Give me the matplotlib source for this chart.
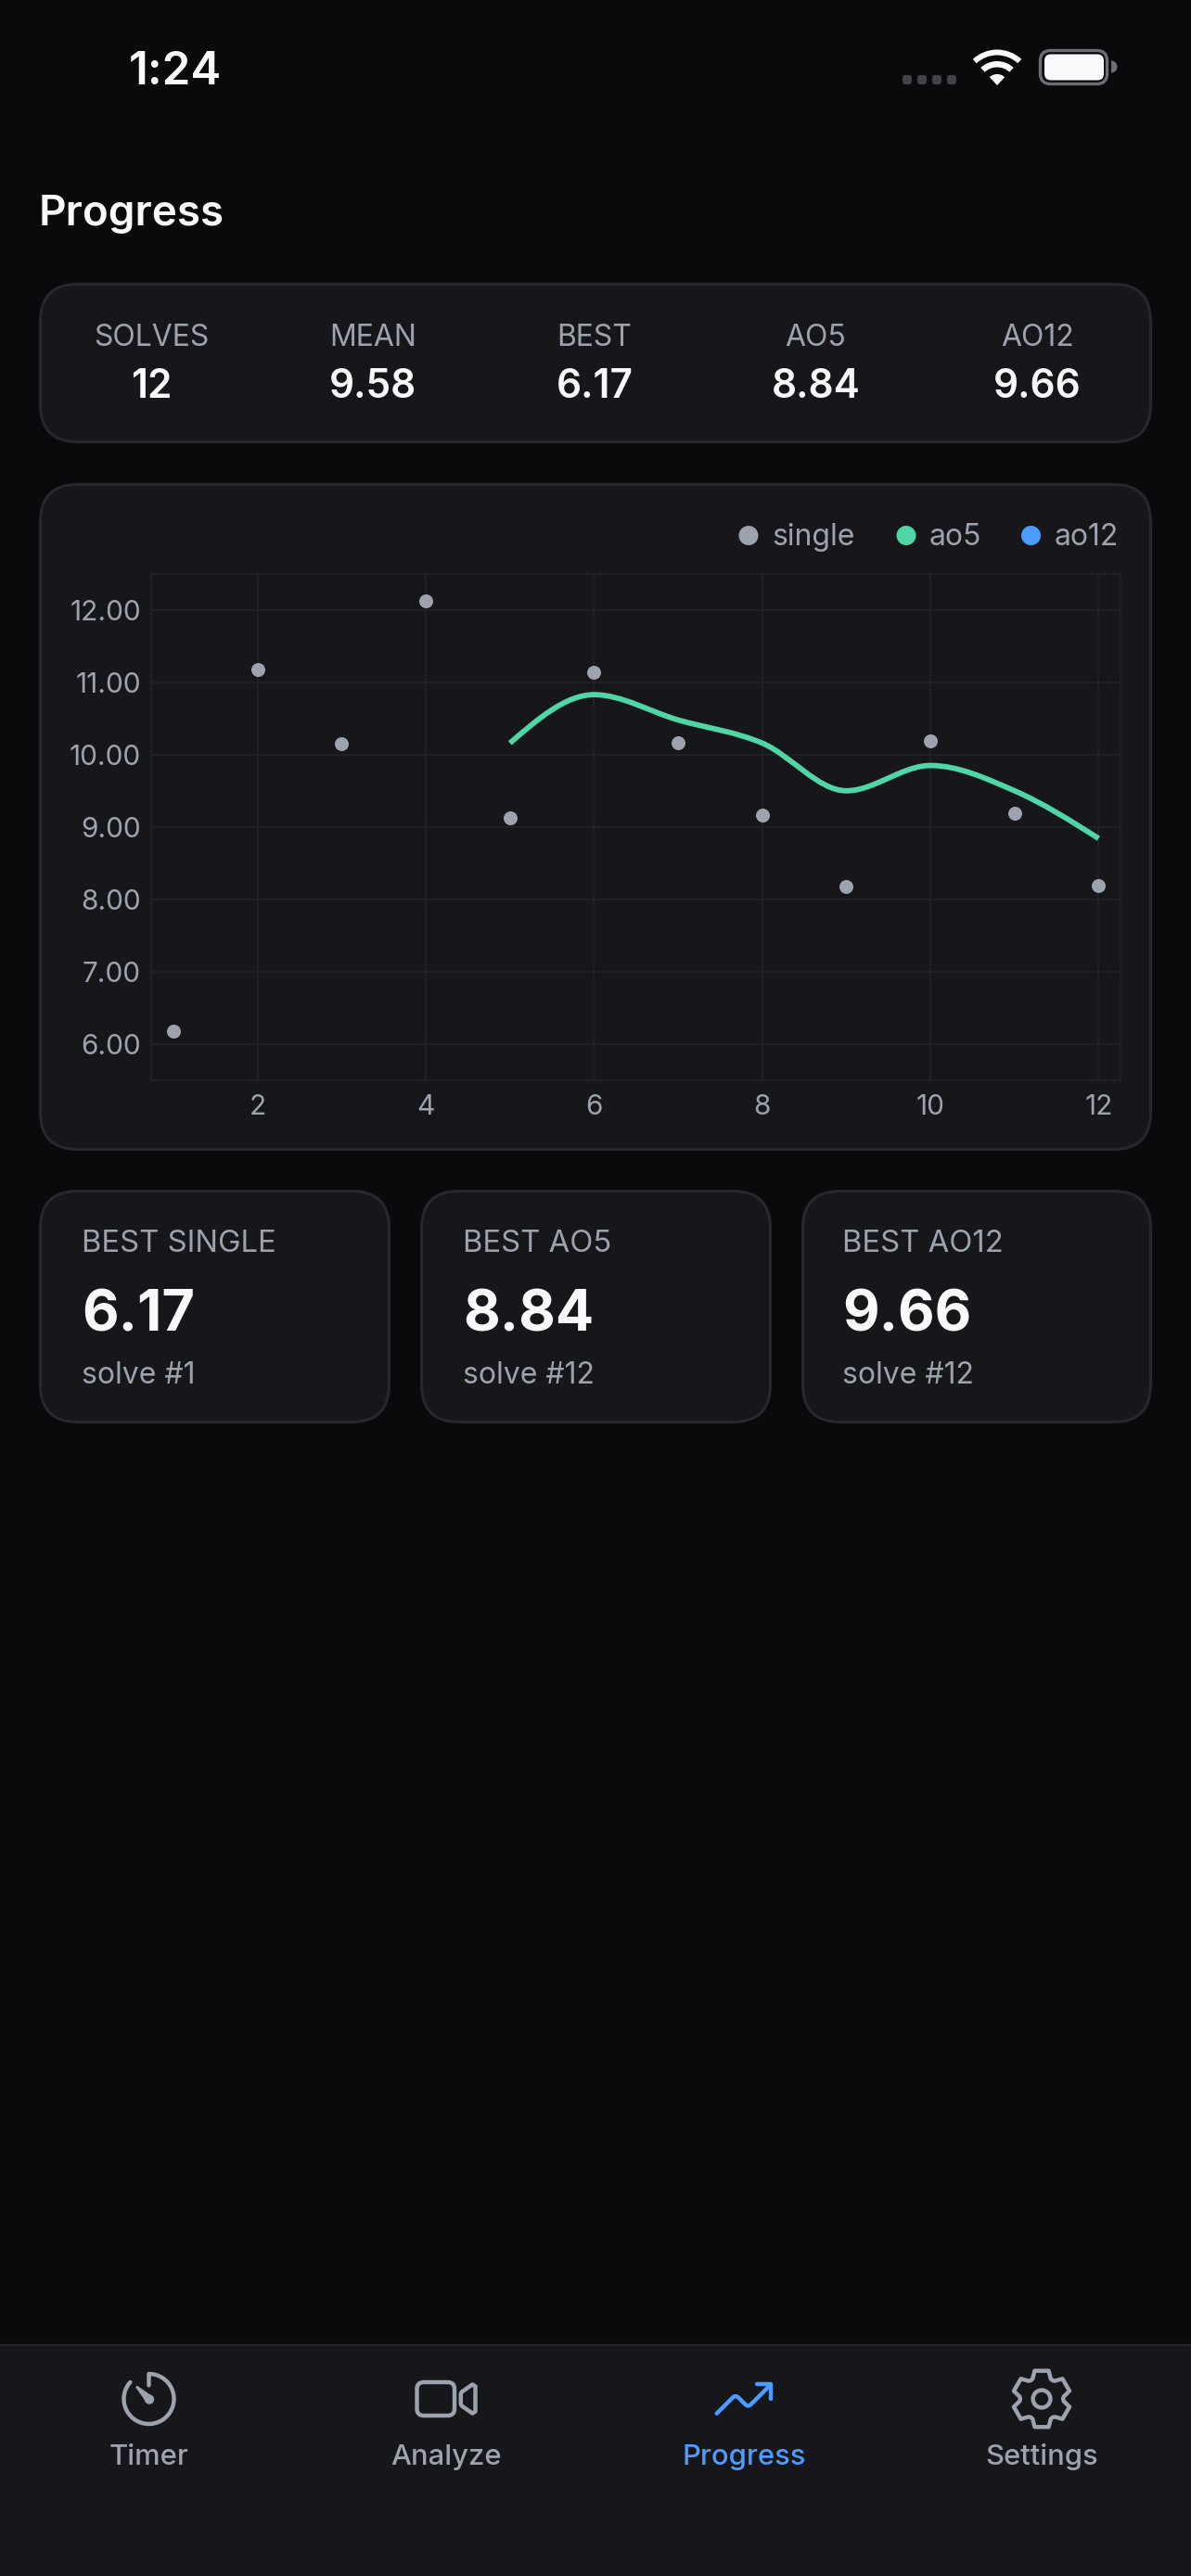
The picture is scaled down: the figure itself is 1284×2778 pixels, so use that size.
import numpy as np
import matplotlib
matplotlib.use("Agg")
import matplotlib.pyplot as plt
from matplotlib.patches import FancyBboxPatch, PathPatch, Circle, Rectangle, Wedge
from matplotlib.path import Path

plt.rcParams['font.family'] = ['Inter', 'DejaVu Sans']

# ===============================
solve_no = [1, 2, 3, 4, 5, 6, 7, 8, 9, 10, 11, 12]
single = [6.17, 11.18, 10.15, 12.13, 9.13, 11.14, 10.17, 9.17, 8.17, 10.19, 9.19, 8.19]
ao5_no = [5, 6, 7, 8, 9, 10, 11, 12]
ao5 = [10.16, 10.83, 10.48, 10.16, 9.50, 9.85, 9.50, 8.84]
ao12_no = []
ao12 = []

x_ticks = [2, 4, 6, 8, 10, 12]
y_ticks = [6, 7, 8, 9, 10, 11, 12]

stat_labels = ['SOLVES', 'MEAN', 'BEST', 'AO5', 'AO12']
stat_values = ['12', '9.58', '6.17', '8.84', '9.66']
best_labels = ['BEST SINGLE', 'BEST AO5', 'BEST AO12']
best_values = ['6.17', '8.84', '9.66']
best_solves = ['solve #1', 'solve #12', 'solve #12']
legend_names = ['single', 'ao5', 'ao12']
tab_names = ['Timer', 'Analyze', 'Progress', 'Settings']

# ===============================
W, H = 1284, 2778
BG = '#0a0a0d'
CARD = '#16161b'
EDGE = '#27272e'
GREY = '#9ca3af'
WHITE = '#f8f9fb'
GREEN = '#50d6a5'
BLUE = '#4c9bff'
GRID = '#212126'

fig = plt.figure(figsize=(W / 100, H / 100), dpi=100, facecolor=BG)
bg = fig.add_axes([0, 0, 1, 1])
bg.set_xlim(0, W)
bg.set_ylim(H, 0)
bg.axis('off')


def card(x0, y0, x1, y1, r=40):
    bg.add_patch(FancyBboxPatch((x0 + 1.5, y0 + 1.5), x1 - x0 - 3, y1 - y0 - 3,
                                boxstyle=f'round,pad=0,rounding_size={r}',
                                fc=CARD, ec=EDGE, lw=2.2))


# status bar
bg.text(138.5, 91, '1:24', fontsize=35.5, fontweight=600, color=WHITE, va='baseline')
for cx in [978, 994, 1010, 1026]:
    bg.add_patch(FancyBboxPatch((cx - 5, 81), 10, 10, boxstyle='round,pad=0,rounding_size=3',
                                fc='#404247', ec='none'))
for r_in, r_out in [(0, 12), (19.5, 26), (32.5, 38.5)]:
    bg.add_patch(Wedge((1075, 92), r_out, -90 - 43, -90 + 43, width=r_out - r_in, fc=WHITE, ec='none'))
bg.add_patch(FancyBboxPatch((1121.5, 54.5), 72, 36, boxstyle='round,pad=0,rounding_size=11',
                            fc='none', ec='#6c6e75', lw=2.4))
bg.add_patch(FancyBboxPatch((1126, 58.5), 64, 28, boxstyle='round,pad=0,rounding_size=7',
                            fc=WHITE, ec='none'))
bg.add_patch(Wedge((1198, 72), 6.5, -90, 90, fc='#6c6e75', ec='none'))

bg.text(42, 242.5, 'Progress', fontsize=33, fontweight=600, color=WHITE, va='baseline')

# stats row
card(42, 305, 1242, 478)
for cx, lab, val in zip([163.5, 402, 641, 879.5, 1118], stat_labels, stat_values):
    bg.text(cx, 373, lab, fontsize=23, color=GREY, ha='center', va='baseline')
    bg.text(cx, 429, val, fontsize=30.5, fontweight=600, color=WHITE, ha='center', va='baseline')

# chart card
card(42, 521, 1242, 1241)
for mx, tx, name, col in zip([807, 977, 1111.5], [832, 1002, 1137], legend_names, [GREY, GREEN, BLUE]):
    bg.add_patch(Circle((mx, 577.5), 10.5, fc=col, ec='none'))
    bg.text(tx, 588, name, fontsize=23, color=GREY, va='baseline')

# best cards
for x0, x1, tx, lab, val, sub in zip([42, 453, 864], [421, 832, 1242], [88, 499, 908.5],
                                     best_labels, best_values, best_solves):
    card(x0, 1283, x1, 1535)
    bg.text(tx, 1350, lab, fontsize=23.6, color=GREY, va='baseline')
    bg.text(tx, 1435, val, fontsize=44, fontweight=700, color=WHITE, va='baseline')
    bg.text(tx, 1492, sub, fontsize=23, color=GREY, va='baseline')

# tab bar
bg.add_patch(Rectangle((0, 2529), W, H - 2529, fc=CARD, ec='none'))
bg.plot([0, W], [2529, 2529], color=EDGE, lw=1.6, solid_capstyle='butt')
for cx, name in zip([160.5, 481, 802, 1123], tab_names):
    bg.text(cx, 2658, name, fontsize=22.3, fontweight=500, color=BLUE if name == 'Progress' else GREY,
            ha='center', va='baseline')

# icons are drawn in a 512 unit box, 72 px on screen
S = 72 / 512
ICON_Y = 2587
ICON_LW = 3.2


def ipt(cx, pts):
    pts = np.asarray(pts, float)
    return np.column_stack([cx + (pts[:, 0] - 256) * S, ICON_Y + (pts[:, 1] - 256) * S])


def stroke(cx, pts, codes=None, color=GREY, fill='none', closed=False):
    p = ipt(cx, pts)
    if codes is None:
        codes = [Path.MOVETO] + [Path.LINETO] * (len(p) - 1)
        if closed:
            codes[-1] = Path.CLOSEPOLY
    bg.add_patch(PathPatch(Path(p, codes), fc=fill, ec=color, lw=ICON_LW,
                           capstyle='round', joinstyle='round'))


# timer
a0 = np.arctan2(128 - 256, 112.91 - 256)
a1 = -np.pi / 2 - 2 * np.pi
th = np.linspace(a0, a1, 90)
ring = np.column_stack([256 + 192 * np.cos(th), 256 + 192 * np.sin(th)])
ring = np.vstack([ring, [[256, 152]]])
stroke(160.5, ring)
hand = [[233, 279], [154, 166], [166, 154], [279, 233], [285, 250], [278, 272], [256, 286]]
stroke(160.5, hand, color='none', fill=GREY, closed=False)
bg.add_patch(Circle((160.5 + 0.5, ICON_Y + 0.5), 5.2, fc=GREY, ec='none'))

# videocam
stroke(481, [[374.8, 308.8], [457.5, 367], [480, 352.4], [480, 159.6], [457.5, 145], [374.8, 203.2],
             [368, 216.3], [368, 295.7], [374.8, 308.8]], closed=True)
bg.add_patch(FancyBboxPatch((481 + (32 - 256) * S + 7.3, ICON_Y + (128 - 256) * S + 7.3),
                            288 * S - 14.6, 256 * S - 14.6, boxstyle='round,pad=7.3',
                            fc='none', ec=GREY, lw=ICON_LW))

# trending up
stroke(802, [[352, 144], [464, 144], [464, 256]], color=BLUE)
stroke(802, [[48, 368], [169.37, 246.63], [192, 224], [214.63, 246.63], [265.37, 297.37], [288, 320],
             [310.63, 297.37], [448, 160]],
       codes=[Path.MOVETO, Path.LINETO, Path.CURVE3, Path.CURVE3, Path.LINETO, Path.CURVE3, Path.CURVE3,
              Path.LINETO], color=BLUE)

# settings gear
gear = []
for k in range(6):
    c = np.deg2rad(-90 + 60 * k)
    for da, r in [(-24, 170), (-14, 222), (14, 222), (24, 170), (30, 164)]:
        a = c + np.deg2rad(da)
        gear.append([256 + r * np.cos(a), 256 + r * np.sin(a)])
gear.append(gear[0])
stroke(1123, gear, closed=True)
bg.add_patch(Circle((1123, ICON_Y), 9.4, fc='none', ec=GREY, lw=ICON_LW))

# ===============================
# chart
left, right, top, bottom = 163, 1208, 619, 1164.5
ax = fig.add_axes([left / W, 1 - bottom / H, (right - left) / W, (bottom - top) / H])
ax.patch.set_visible(False)
ax.set_xlim(0.735, 12.26)
ax.set_ylim(5.5, 12.5)
ax.set_xticks(x_ticks)
ax.set_yticks(y_ticks)
ax.set_yticklabels([f'{v:.2f}' for v in y_ticks])
ax.tick_params(axis='both', length=0, labelcolor=GREY, labelsize=21.5)
ax.tick_params(axis='x', pad=11)
ax.tick_params(axis='y', pad=8)
ax.grid(True, color=GRID, lw=1.4)
ax.set_axisbelow(True)
for s in ax.spines.values():
    s.set_color(GRID)
    s.set_linewidth(1.4)


def monotone_path(xs, ys):
    # same tangents as d3 curveMonotoneX
    xs, ys = np.asarray(xs, float), np.asarray(ys, float)
    h = np.diff(xs)
    s = np.diff(ys) / h
    m = np.zeros(len(xs))
    for i in range(1, len(xs) - 1):
        p = (s[i - 1] * h[i] + s[i] * h[i - 1]) / (h[i - 1] + h[i])
        m[i] = (np.sign(s[i - 1]) + np.sign(s[i])) * min(abs(s[i - 1]), abs(s[i]), 0.5 * abs(p))
    m[0] = (3 * s[0] - m[1]) / 2
    m[-1] = (3 * s[-1] - m[-2]) / 2
    verts = [(xs[0], ys[0])]
    codes = [Path.MOVETO]
    for i in range(len(h)):
        verts += [(xs[i] + h[i] / 3, ys[i] + m[i] * h[i] / 3),
                  (xs[i + 1] - h[i] / 3, ys[i + 1] - m[i + 1] * h[i] / 3),
                  (xs[i + 1], ys[i + 1])]
        codes += [Path.CURVE4] * 3
    return Path(verts, codes)


ax.plot(solve_no, single, 'o', color=GREY, ms=10.8, mec='none', clip_on=False, zorder=3)
ax.add_patch(PathPatch(monotone_path(ao5_no, ao5), fc='none', ec=GREEN, lw=4.2,
                       capstyle='butt', joinstyle='round', zorder=4))
ax.plot(ao12_no, ao12, color=BLUE, lw=4.2)
ax.set_xlim(0.735, 12.26)
ax.set_ylim(5.5, 12.5)

fig.savefig('out.png', dpi=100, facecolor=BG)
